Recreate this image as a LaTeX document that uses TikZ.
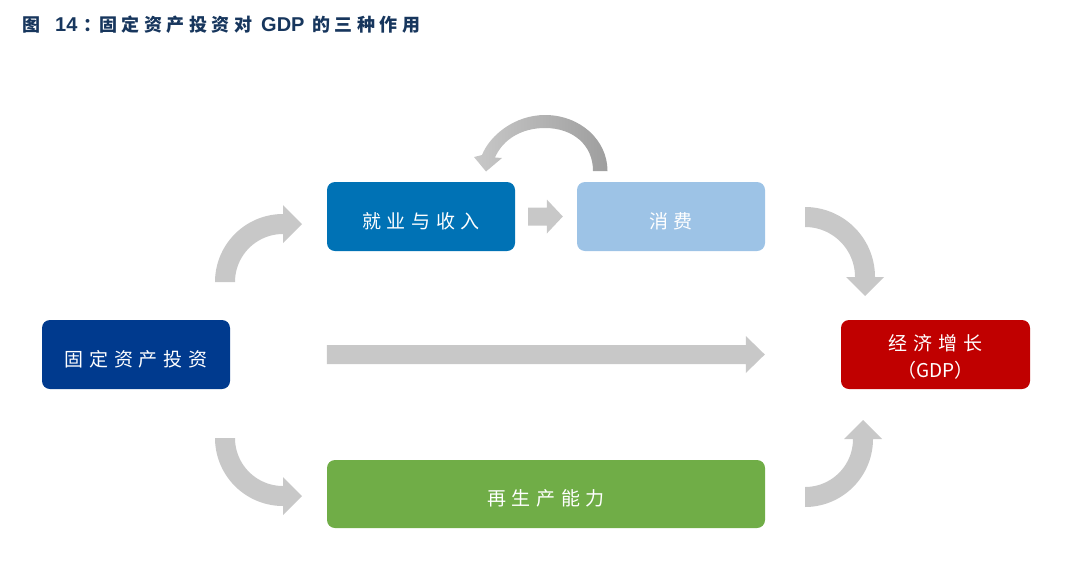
\documentclass[tikz,border=0pt]{standalone}
\usepackage{fontspec}
\newfontfamily\cjkbox{Noto Sans CJK SC}[LetterSpace=30]
\newfontfamily\cjkplain{Noto Sans CJK SC}
\newfontfamily\cjktitle{Noto Sans CJK SC}[LetterSpace=25]
\newfontfamily\latbold{Liberation Sans}
\usetikzlibrary{calc}
\definecolor{arrowgray}{HTML}{C8C8C8}
\definecolor{loopdark}{HTML}{9E9E9E}
\definecolor{looplight}{HTML}{C8C8C8}
\definecolor{invblue}{HTML}{003A8E}
\definecolor{jobblue}{HTML}{0072B5}
\definecolor{conblue}{HTML}{9DC3E6}
\definecolor{repgreen}{HTML}{70AD47}
\definecolor{gdpred}{HTML}{C00000}
\definecolor{titleblue}{HTML}{17365D}
\newcommand{\lowered}[1]{\raisebox{-4.5pt}[\height][\depth]{#1}}
% curved block arrow: cx, cy, r inner, r outer, start angle, end angle, direction (+1/-1)
\newcommand{\grayCurve}[7]{%
  \fill[arrowgray] plot[domain=#5:#6,samples=40] ({#1+#4*cos(\x)},{#2+#4*sin(\x)})
    -- ({#1+(#4+9)*cos(#6)},{#2+(#4+9)*sin(#6)})
    -- ({#1+(#3+#4)/2*cos(#6)+(#7)*19*(0-sin(#6))},{#2+(#3+#4)/2*sin(#6)+(#7)*19*cos(#6)})
    -- ({#1+(#3-9)*cos(#6)},{#2+(#3-9)*sin(#6)})
    -- plot[domain=#6:#5,samples=40] ({#1+#3*cos(\x)},{#2+#3*sin(\x)}) -- cycle;}
\begin{document}
\begin{tikzpicture}[x=1pt,y=-1pt,
  box/.style={rounded corners=8pt, minimum width=188pt, minimum height=69pt,
    inner sep=0pt, text=white,
    font=\cjkbox\fontsize{19}{27}\selectfont},
  titlecjk/.style={anchor=base west, inner sep=0pt, text=titleblue,
    font=\cjktitle\bfseries\fontsize{18}{18}\selectfont},
  titlelat/.style={anchor=base west, inner sep=0pt, text=titleblue,
    font=\latbold\bfseries\fontsize{20}{20}\selectfont}]
\useasboundingbox (0,0) rectangle (1070,576);

% title
\node[titlecjk] (t1) at (22,31) {图};
\node[titlelat] (t2) at (55,31) {14};
\node[titlecjk] (t3) at (83,31) {：};
\node[titlecjk] (t4) at (99,31) {固定资产投资对};
\node[titlelat] (t5) at (261,31) {GDP};
\node[titlecjk] (t6) at (312,31) {的三种作用};

% boxes
\node[box, fill=invblue] (inv) at (136,354.5) {\lowered{固定资产投资}};
\node[box, fill=jobblue] (job) at (421,216.5) {\lowered{就业与收入}};
\node[box, fill=conblue] (con) at (671,216.5) {\lowered{消费}};
\node[box, fill=repgreen, minimum width=438pt, minimum height=68pt] (rep) at (546,494) {\lowered{再生产能力}};
\node[box, fill=gdpred, minimum width=189pt] (gdp) at (935.5,354.5)
  {\lowered{\begin{tabular}{@{}c@{}}经济增长\\{\cjkplain （GDP）}\end{tabular}}};

% straight arrow inv -> gdp
\coordinate (s1) at (job.west |- inv.east);
\coordinate (e1) at ([xshift=-76pt]gdp.west);
\fill[arrowgray] ($(s1)+(0,-9.5)$) -- ($(e1)+(-19,-9.5)$) -- ($(e1)+(-19,-18.5)$)
  -- (e1) -- ($(e1)+(-19,18.5)$) -- ($(e1)+(-19,9.5)$) -- ($(s1)+(0,9.5)$) -- cycle;

% small arrow job -> con
\coordinate (s2) at ([xshift=13pt]job.east);
\coordinate (e2) at ([xshift=-14pt]con.west);
\fill[arrowgray] ($(s2)+(0,-9)$) -- ($(e2)+(-16,-9)$) -- ($(e2)+(-16,-17)$)
  -- (e2) -- ($(e2)+(-16,17)$) -- ($(e2)+(-16,9)$) -- ($(s2)+(0,9)$) -- cycle;

% curved arrows
\grayCurve{283}{282}{48}{68}{180}{270}{1}   % inv -> job
\grayCurve{283}{438}{48}{68}{180}{90}{-1}   % inv -> rep
\grayCurve{805}{277}{50}{70}{270}{360}{1}   % con -> gdp
\grayCurve{805}{439}{48}{68}{90}{0}{-1}     % rep -> gdp

% loop arrow con -> job
\shade[left color=looplight, middle color=looplight!60!loopdark, right color=loopdark]
  (607.5,171) .. controls (607.5,140) and (580,115) .. (545,115)
  .. controls (515,115) and (490,135) .. (482,155)
  -- (474,157) -- (486,171.5) -- (502,158) -- (495,157.5)
  .. controls (503,139) and (522,128) .. (545,128)
  .. controls (573,128) and (593,145) .. (593,171) -- cycle;
\end{tikzpicture}
\end{document}
